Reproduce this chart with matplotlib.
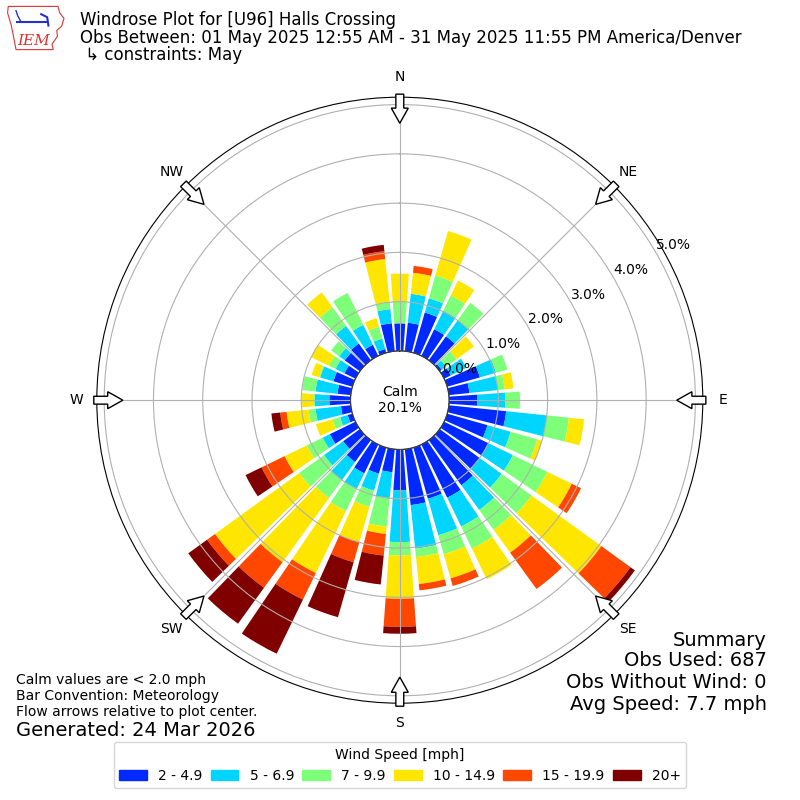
import matplotlib
matplotlib.use("Agg")
import matplotlib.pyplot as plt
import matplotlib.patches as mpatches
import numpy as np

# wind direction bins (deg, meteorological) and speed classes
directions = np.arange(0, 360, 10)
speed_labels = ["2 - 4.9", "5 - 6.9", "7 - 9.9", "10 - 14.9", "15 - 19.9", "20+"]

# percent of observations per direction bin, one list per speed class
pct_2_5 = [0.56, 0.58, 0.85, 0.60, 0.60, 0.05, 0.15, 0.69, 0.42, 0.57, 1.17, 0.85,
           1.00, 1.00, 1.13, 1.20, 1.08, 1.14, 0.83, 0.47, 0.55, 0.65, 0.55, 0.42,
           0.58, 0.10, 0.20, 0.43, 0.27, 0.40, 0.25, 0.38, 0.42, 0.25, 0.08, 0.57]
pct_5_7 = [0.00, 0.59, 0.30, 0.42, 0.40, 0.11, 0.35, 0.34, 0.58, 0.57, 0.83, 0.49,
           0.55, 0.55, 0.62, 0.65, 0.77, 0.89, 1.05, 0.53, 0.36, 0.35, 0.45, 0.48,
           0.16, 0.16, 0.52, 0.30, 0.45, 0.28, 0.20, 0.14, 0.44, 0.45, 0.22, 0.29]
pct_7_10 = [0.44, 0.00, 0.48, 0.34, 0.44, 0.26, 0.00, 0.24, 0.14, 0.30, 0.45, 0.56,
            0.78, 0.75, 0.50, 0.50, 0.40, 0.17, 0.27, 0.58, 0.34, 0.50, 0.45, 0.62,
            0.36, 0.16, 0.14, 0.03, 0.27, 0.02, 0.15, 0.20, 0.47, 0.72, 0.25, 0.15]
pct_10_15 = [0.57, 0.43, 0.94, 0.34, 0.00, 0.44, 0.00, 0.00, 0.18, 0.00, 0.31, 0.10,
             0.55, 1.75, 0.57, 0.69, 0.51, 0.55, 0.88, 0.15, 0.75, 1.40, 1.61, 2.11,
             0.50, 0.35, 0.45, 0.23, 0.00, 0.16, 0.40, 0.00, 0.37, 0.00, 0.18, 0.87]
pct_15_20 = [0.00, 0.14, 0.00, 0.00, 0.00, 0.00, 0.00, 0.00, 0.00, 0.00, 0.00, 0.00,
             0.21, 0.73, 0.91, 0.00, 0.16, 0.13, 0.57, 0.44, 0.42, 0.60, 0.64, 0.20,
             0.52, 0.00, 0.13, 0.00, 0.00, 0.00, 0.00, 0.00, 0.00, 0.00, 0.00, 0.16]
pct_20p = [0.00, 0.00, 0.00, 0.00, 0.00, 0.00, 0.00, 0.00, 0.00, 0.00, 0.00, 0.00,
           0.00, 0.11, 0.00, 0.00, 0.00, 0.00, 0.14, 0.59, 1.16, 1.22, 0.90, 0.47,
           0.36, 0.00, 0.18, 0.00, 0.00, 0.00, 0.00, 0.00, 0.00, 0.00, 0.00, 0.13]
calm_pct = 20.1

colors = plt.cm.jet(np.linspace(0, 1, 7))[1:]

fig = plt.figure(figsize=(8, 8), dpi=100)
ax = fig.add_axes([0.121, 0.121, 0.7575, 0.7575], projection="polar")
ax.set_theta_zero_location("N")
ax.set_theta_direction(-1)
ax.set_ylim(0, 5.15)
ax.set_rorigin(-1.0)

theta = np.radians(directions)
bottom = np.zeros(len(directions))
handles = []
for vals, c, lbl in zip([pct_2_5, pct_5_7, pct_7_10, pct_10_15, pct_15_20, pct_20p],
                        colors, speed_labels):
    vals = np.array(vals)
    ax.bar(theta, vals, width=np.radians(8.2), bottom=bottom, color=c,
           linewidth=0, zorder=1)
    bottom += vals
    handles.append(mpatches.Patch(color=c, label=lbl))

ax.set_axisbelow(False)
ax.grid(True, color="#b0b0b0", lw=0.8)
ax.set_yticks(np.arange(0, 6))
ax.set_yticklabels(["%.1f%%" % v for v in range(6)], fontsize=10)
ax.set_rlabel_position(60)
ax.set_xticks(np.radians(np.arange(0, 360, 45)))
ax.set_xticklabels(["N", "NE", "E", "SE", "S", "SW", "W", "NW"], fontsize=10)
ax.tick_params(axis="x", pad=4)

# calm circle in the middle
calm = mpatches.Circle((0.5, 0.5), 49 / 606, transform=ax.transAxes,
                       facecolor="white", edgecolor="black", lw=1, zorder=5)
ax.add_patch(calm)
ax.text(0.5, 0.5, "Calm\n%.1f%%" % calm_pct, transform=ax.transAxes,
        ha="center", va="center", fontsize=10, zorder=6)

# flow arrows on the rim pointing to the center
for a in np.radians(np.arange(0, 360, 45)):
    ux, uy = np.sin(a), np.cos(a)
    r0, r1 = 0.505, 0.457
    arr = mpatches.FancyArrow(0.5 + r0 * ux, 0.5 + r0 * uy,
                              (r1 - r0) * ux, (r1 - r0) * uy,
                              width=0.013, head_width=0.028, head_length=0.025,
                              length_includes_head=True, transform=ax.transAxes,
                              facecolor="white", edgecolor="black", lw=1,
                              clip_on=False, zorder=7)
    ax.add_patch(arr)

# header
fig.text(0.1, 1 - 20 / 800, "Windrose Plot for [U96] Halls Crossing", fontsize=12, va="center")
fig.text(0.1, 1 - 38 / 800,
         "Obs Between: 01 May 2025 12:55 AM - 31 May 2025 11:55 PM America/Denver",
         fontsize=12, va="center")
fig.text(0.1, 1 - 55 / 800, " \u21b3 constraints: May", fontsize=12, va="center")

# simple logo
lax = fig.add_axes([0.008, 0.935, 0.075, 0.06])
lax.set_xlim(0, 10)
lax.set_ylim(0, 8)
lax.axis("off")
outline = [(0.3, 7.6), (8.6, 7.6), (8.9, 6.5), (9.6, 5.6), (9.2, 4.3), (8.4, 3.6),
           (8.5, 2.6), (7.6, 1.3), (7.8, 0.4), (1.6, 0.4), (1.2, 2.5), (0.8, 4.5),
           (0.2, 6.5)]
lax.add_patch(mpatches.Polygon(outline, closed=True, fill=False, ec="#d33", lw=0.8))
lax.plot([1.8, 6.8], [5.0, 5.0], color="#2233cc", lw=1.5)
lax.plot([1.6, 1.9, 2.4], [6.9, 6.0, 5.1], color="#2233cc", lw=1)
lax.plot([5.8, 6.8, 7.0], [6.3, 5.8, 4.4], color="#2233cc", lw=1.5)
lax.text(4.5, 1.8, "IEM", color="#d33", fontsize=11, fontstyle="italic",
         family="DejaVu Serif", ha="center", va="center")

# footnotes
fig.text(16 / 800, 1 - 680 / 800, "Calm values are < 2.0 mph", fontsize=10, va="center")
fig.text(16 / 800, 1 - 696 / 800, "Bar Convention: Meteorology", fontsize=10, va="center")
fig.text(16 / 800, 1 - 712 / 800, "Flow arrows relative to plot center.", fontsize=10, va="center")
fig.text(16 / 800, 1 - 730 / 800, "Generated: 24 Mar 2026", fontsize=14, va="center")

fig.text(767 / 800, 1 - 640 / 800, "Summary", fontsize=14, ha="right", va="center")
fig.text(767 / 800, 1 - 661 / 800, "Obs Used: 687", fontsize=14, ha="right", va="center")
fig.text(767 / 800, 1 - 683 / 800, "Obs Without Wind: 0", fontsize=14, ha="right", va="center")
fig.text(767 / 800, 1 - 705 / 800, "Avg Speed: 7.7 mph", fontsize=14, ha="right", va="center")

fig.legend(handles=handles, ncol=6, loc="lower center", bbox_to_anchor=(0.5, 0.006),
           title="Wind Speed [mph]", fontsize=10, title_fontsize=10,
           columnspacing=0.6)

fig.savefig("out.png", dpi=100)
